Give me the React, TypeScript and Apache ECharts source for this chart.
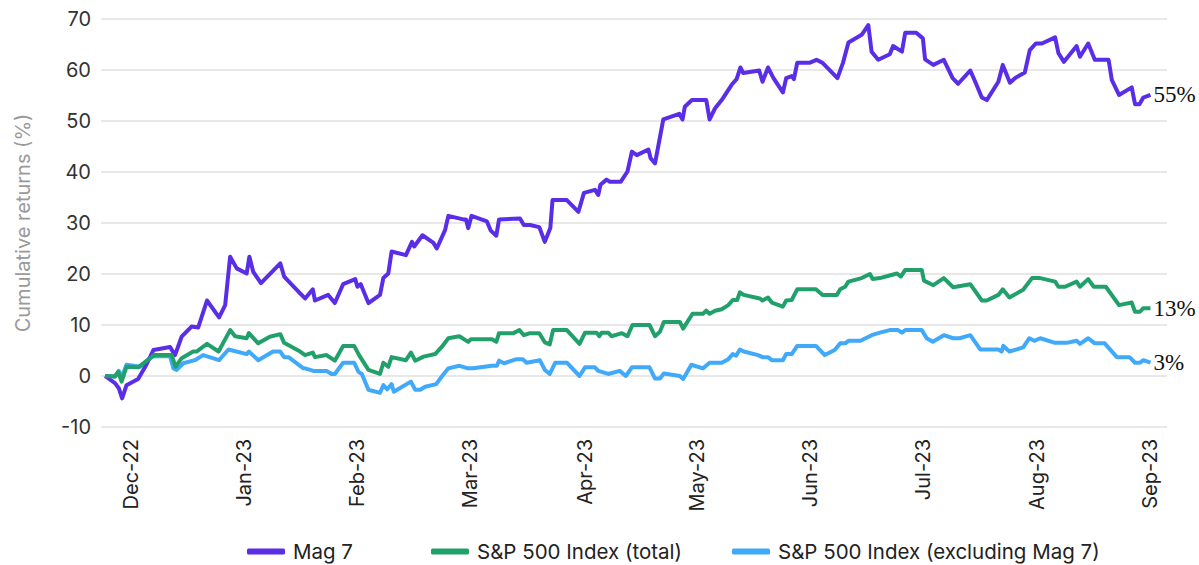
import React, { useEffect, useRef } from "react";
import * as echarts from "echarts";

// x = trading-day index since start, y = cumulative return (%)
const mag7: [number, number][] = [
  [0, 0], [1.8, -1.4], [2.5, -2.4], [3.1, -4.4], [3.9, -1.8], [6.0, -0.6], [7.3, 1.8], [8.8, 5.1],
  [11.8, 5.7], [12.7, 4.1], [13.9, 7.7], [15.7, 9.7], [16.9, 9.5], [18.5, 14.8], [20.7, 11.5],
  [21.8, 13.9], [22.7, 23.4], [23.9, 21.1], [25.7, 20.1], [26.2, 23.4], [26.9, 20.4], [28.3, 18.2],
  [31.8, 22.1], [32.5, 19.5], [35.4, 16.2], [36.3, 15.2], [37.7, 17.0], [38.1, 14.8], [40.5, 15.9],
  [41.7, 14.3], [43.2, 18.0], [45.4, 19.0], [45.8, 17.5], [46.4, 18.0], [47.8, 14.3], [49.9, 15.9],
  [50.5, 19.2], [51.4, 20.1], [52.0, 24.4], [54.6, 23.7], [55.7, 26.3], [56.1, 25.4], [57.6, 27.6],
  [59.6, 26.1], [60.2, 25.0], [61.7, 28.6], [62.3, 31.4], [65.0, 30.7], [65.5, 30.7], [65.9, 29.0],
  [66.5, 31.4], [69.3, 30.3], [70.0, 28.5], [71.0, 27.5], [71.5, 30.7], [75.3, 30.9], [76.0, 29.6],
  [77.1, 29.6], [78.8, 29.2], [79.8, 26.3], [80.8, 29.0], [81.2, 34.5], [83.8, 34.5], [85.9, 32.2],
  [86.9, 35.9], [88.9, 36.5], [89.5, 35.5], [89.9, 37.5], [91.0, 38.5], [91.6, 38.1], [93.6, 38.1],
  [94.8, 40.1], [95.6, 44.0], [96.5, 43.3], [98.6, 44.4], [99.0, 42.7], [99.8, 41.7], [101.3, 50.3],
  [104.2, 51.4], [104.8, 50.3], [105.2, 52.8], [106.5, 54.1], [109.1, 54.1], [109.7, 50.3],
  [110.7, 52.5], [111.9, 54.1], [113.7, 57.1], [114.6, 58.2], [115.3, 60.5], [115.8, 59.4],
  [118.7, 59.9], [119.3, 57.7], [120.3, 60.5], [121.3, 58.4], [123.0, 55.6], [123.6, 58.4],
  [124.6, 58.8], [125.0, 58.2], [125.6, 61.4], [127.8, 61.4], [129.1, 62.0], [130.2, 61.4],
  [132.9, 58.4], [133.9, 61.4], [134.9, 65.4], [137.3, 66.9], [138.5, 68.8], [139.1, 63.6],
  [140.3, 62.0], [142.4, 63.1], [143.0, 64.7], [144.6, 63.6], [145.2, 67.3], [147.2, 67.3],
  [148.4, 66.2], [148.8, 62.1], [150.3, 61.0], [152.2, 62.0], [153.8, 58.4], [154.8, 57.3],
  [157.0, 59.9], [157.9, 57.7], [159.1, 54.6], [160.0, 54.1], [162.1, 57.7], [162.9, 61.0],
  [164.2, 57.5], [165.1, 58.4], [166.9, 59.5], [167.8, 63.9], [168.9, 65.2], [170.0, 65.2],
  [172.4, 66.4], [173.0, 63.3], [174.0, 61.6], [176.3, 64.7], [176.9, 62.6], [178.4, 65.2],
  [179.6, 62.0], [182.1, 62.0], [182.7, 58.0], [184.0, 55.1], [186.3, 56.6], [186.9, 53.3],
  [187.7, 53.3], [188.4, 54.6], [189.7, 55.1],
];

const spTotal: [number, number][] = [
  [0, 0], [1.8, -0.1], [2.4, 0.8], [3.0, -1.1], [3.9, 1.8], [6.0, 1.7], [8.9, 4.1], [12.1, 4.1],
  [12.8, 1.8], [13.9, 3.5], [16.0, 4.8], [16.6, 4.8], [18.5, 6.3], [20.6, 4.8], [22.7, 9.0],
  [23.6, 7.8], [25.7, 7.4], [26.1, 8.4], [27.8, 6.4], [29.9, 7.7], [31.8, 8.2], [32.5, 6.5],
  [35.4, 4.8], [36.3, 4.1], [37.7, 4.6], [38.1, 3.7], [40.2, 4.1], [41.7, 3.0], [43.2, 5.9],
  [45.2, 5.9], [46.1, 4.1], [47.8, 1.2], [49.9, 0.4], [50.5, 2.6], [51.4, 1.8], [52.0, 3.7],
  [54.6, 3.1], [55.5, 4.6], [56.3, 3.0], [57.8, 3.8], [59.9, 4.3], [61.1, 5.7], [62.3, 7.4],
  [64.3, 7.8], [65.9, 6.7], [66.4, 7.2], [70.2, 7.2], [71.0, 6.7], [71.5, 8.4], [74.1, 8.4],
  [75.2, 9.0], [76.0, 8.0], [77.1, 8.4], [78.8, 8.4], [79.8, 6.6], [80.7, 6.2], [81.3, 9.0],
  [83.8, 9.0], [86.1, 6.3], [87.1, 8.5], [89.2, 8.5], [89.7, 7.8], [90.1, 8.5], [91.3, 8.5],
  [91.9, 7.8], [93.8, 8.4], [94.8, 7.8], [95.7, 10.0], [98.8, 10.0], [99.8, 7.8], [100.7, 8.7],
  [101.4, 10.6], [104.3, 10.6], [104.9, 9.3], [106.6, 12.2], [108.5, 12.2], [109.1, 12.8],
  [109.7, 12.2], [110.7, 12.8], [111.9, 13.1], [113.1, 13.9], [113.9, 14.9], [114.7, 14.9],
  [115.2, 16.4], [115.9, 15.9], [118.8, 15.2], [119.3, 14.8], [120.3, 15.4], [121.0, 14.4],
  [123.0, 13.6], [123.6, 14.8], [124.6, 14.9], [125.6, 17.0], [129.0, 17.0], [130.2, 15.9],
  [132.8, 15.9], [133.4, 17.0], [134.3, 17.5], [134.9, 18.5], [137.3, 19.2], [138.8, 20.0],
  [139.3, 19.0], [140.6, 19.2], [142.7, 19.8], [143.7, 20.1], [144.4, 19.5], [145.2, 20.8],
  [148.2, 20.8], [148.6, 18.7], [150.3, 17.8], [152.2, 19.2], [153.9, 17.4], [157.0, 18.0],
  [159.1, 14.8], [160.0, 14.8], [162.1, 15.9], [162.9, 17.0], [164.1, 15.4], [166.6, 16.9],
  [168.2, 19.2], [169.7, 19.2], [172.4, 18.5], [173.0, 17.5], [174.2, 17.5], [176.3, 18.5],
  [176.9, 17.5], [178.4, 19.0], [179.4, 17.5], [181.6, 17.5], [184.0, 13.9], [186.3, 14.4],
  [186.9, 12.6], [187.8, 12.6], [188.4, 13.3], [189.7, 13.3],
];

const spExMag7: [number, number][] = [
  [0, 0], [1.8, -0.1], [2.5, 1.0], [3.1, -0.1], [3.9, 2.2], [6.4, 1.8], [8.5, 3.8], [11.8, 3.9],
  [12.4, 1.5], [13.0, 1.2], [14.2, 2.5], [16.3, 3.1], [17.8, 4.1], [20.7, 3.1], [22.4, 5.2],
  [25.7, 4.3], [26.1, 4.8], [27.8, 3.1], [30.5, 4.8], [31.8, 4.8], [32.5, 3.7], [33.3, 3.7],
  [36.0, 1.5], [36.3, 1.5], [37.8, 1.0], [40.2, 1.0], [41.1, 0.4], [41.7, 0.4], [43.2, 2.6],
  [45.2, 2.6], [46.0, 0.8], [46.6, 0.4], [47.8, -2.7], [49.9, -3.3], [50.5, -1.8], [51.2, -2.6],
  [52.0, -1.6], [52.4, -3.1], [55.5, -1.1], [56.3, -2.7], [57.2, -2.7], [58.1, -2.1], [60.1, -1.6],
  [61.1, -0.1], [62.3, 1.5], [64.3, 2.0], [65.9, 1.5], [66.8, 1.5], [70.2, 2.0], [71.1, 2.0],
  [71.5, 3.0], [72.4, 2.5], [74.7, 3.3], [75.8, 3.3], [76.5, 2.6], [78.9, 3.1], [79.8, 1.2],
  [80.7, 0.4], [81.7, 2.6], [83.8, 2.6], [86.1, 0.0], [87.1, 1.7], [88.9, 1.7], [89.5, 1.0],
  [91.3, 0.4], [93.4, 1.0], [94.5, 0.0], [95.6, 1.7], [98.8, 1.7], [99.8, -0.5], [100.7, -0.5],
  [101.4, 0.5], [104.3, 0.0], [104.9, -0.6], [106.4, 2.2], [108.5, 1.5], [109.7, 2.6], [111.9, 2.6],
  [113.1, 3.3], [113.9, 4.3], [114.5, 4.0], [115.2, 5.2], [115.9, 4.8], [118.5, 4.1], [119.3, 3.7],
  [120.3, 3.7], [121.0, 3.1], [123.0, 3.1], [123.6, 4.3], [124.6, 4.3], [125.6, 5.9], [129.0, 5.9],
  [130.6, 4.1], [132.4, 5.1], [133.4, 6.4], [134.3, 6.4], [134.9, 6.9], [137.1, 6.9], [139.1, 8.0],
  [140.6, 8.5], [142.4, 9.0], [143.9, 9.0], [144.6, 8.5], [145.2, 9.0], [148.2, 9.0], [149.1, 7.4],
  [150.2, 6.7], [152.2, 8.0], [153.9, 7.4], [155.1, 7.4], [157.0, 8.0], [158.8, 5.2], [162.1, 5.2],
  [162.7, 4.8], [163.0, 5.9], [164.1, 4.8], [166.6, 5.6], [167.7, 7.4], [168.6, 6.9], [169.7, 7.4],
  [172.4, 6.5], [174.5, 6.5], [176.3, 6.9], [176.9, 6.3], [178.4, 7.4], [179.6, 6.4], [181.4, 6.4],
  [183.6, 3.7], [185.9, 3.7], [186.9, 2.6], [187.8, 2.6], [188.4, 3.1], [189.7, 2.6],
];

const seriesNames = ["Mag 7", "S&P 500 Index (total)", "S&P 500 Index (excluding Mag 7)"];
const endLabels = ["55%", "13%", "3%"];
const monthLabels = ["Dec-22", "Jan-23", "Feb-23", "Mar-23", "Apr-23", "May-23", "Jun-23", "Jul-23", "Aug-23", "Sep-23"];
const monthTickPos = [4.7, 25.2, 45.7, 66.2, 87.1, 107.4, 127.9, 148.4, 169.1, 189.6];
const yTicks = { min: -10, max: 70, interval: 10 };

const colors = ["#5a2de6", "#22a06b", "#40a9fa"];
const FONT = "Inter, 'Noto Sans', sans-serif";

export default function App() {
  const ref = useRef<HTMLDivElement>(null);
  useEffect(() => {
    if (!ref.current) return;
    const chart = echarts.init(ref.current, null, { renderer: "svg" });
    const datasets = [mag7, spTotal, spExMag7];
    const legendLefts = [247, 431, 732];
    const zs = [3, 4, 2];
    chart.setOption({
      animation: false,
      backgroundColor: "#ffffff",
      grid: { left: 101, right: 32, top: 19, bottom: 138, containLabel: false },
      legend: seriesNames.map((n, i) => ({
        data: [n],
        left: legendLefts[i],
        top: 541,
        icon: "roundRect",
        itemWidth: 38,
        itemHeight: 6,
        padding: 0,
        textStyle: { fontFamily: FONT, fontSize: 20.5, color: "#222", padding: [0, 0, 0, 3] },
        selectedMode: false,
      })),
      xAxis: {
        type: "value",
        min: -0.73,
        max: 192.7,
        axisLine: { show: false },
        axisTick: { show: false },
        splitLine: { show: false },
        axisLabel: {
          customValues: monthTickPos,
          rotate: 90,
          margin: 12,
          fontFamily: FONT,
          fontSize: 20,
          color: "#222",
          formatter: (v: number) => {
            const idx = monthTickPos.findIndex((p) => Math.abs(p - v) < 0.01);
            return idx >= 0 ? monthLabels[idx] : "";
          },
        },
      },
      yAxis: {
        type: "value",
        min: yTicks.min,
        max: yTicks.max,
        interval: yTicks.interval,
        name: "Cumulative returns (%)",
        nameLocation: "middle",
        nameGap: 68,
        nameTextStyle: { fontFamily: FONT, fontSize: 20, color: "#9a9a9a" },
        axisLine: { show: false },
        axisTick: { show: false },
        axisLabel: { fontFamily: FONT, fontSize: 20, color: "#333", margin: 10 },
        splitLine: { lineStyle: { color: "#e0e0e0", width: 1.5 } },
      },
      series: datasets.map((d, i) => ({
        name: seriesNames[i],
        type: "line",
        data: d,
        showSymbol: false,
        symbol: "none",
        z: zs[i],
        color: colors[i],
        lineStyle: { width: 4, color: colors[i], join: "round" },
        endLabel: {
          show: true,
          formatter: () => endLabels[i],
          distance: 3,
          fontFamily: "'Liberation Serif', 'DejaVu Serif', serif",
          fontSize: 23,
          color: "#111",
        },
      })),
    });
    return () => chart.dispose();
  }, []);
  return (
    <div
      ref={ref}
      style={{ position: "fixed", left: 0, top: 0, width: 1199, height: 565, background: "#fff" }}
    />
  );
}
